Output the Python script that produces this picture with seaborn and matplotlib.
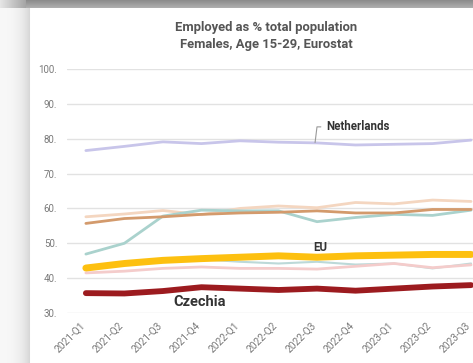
import numpy as np
import pandas as pd
import matplotlib
matplotlib.use("Agg")
import matplotlib.pyplot as plt
import matplotlib.transforms as mtransforms
import seaborn as sns

quarters = ["2021-Q1", "2021-Q2", "2021-Q3", "2021-Q4", "2022-Q1", "2022-Q2",
            "2022-Q3", "2022-Q4", "2023-Q1", "2023-Q2", "2023-Q3"]

netherlands = [76.6, 77.8, 79.1, 78.6, 79.4, 79.0, 78.8, 78.2, 78.4, 78.6, 79.6]
peach_series = [57.6, 58.4, 59.4, 58.2, 60.0, 60.7, 60.2, 61.7, 61.3, 62.4, 62.0]
tan_series = [55.7, 57.1, 57.6, 58.3, 58.7, 58.9, 59.3, 58.7, 58.7, 59.7, 59.7]
teal_series = [46.9, 50.0, 57.8, 59.5, 59.3, 59.3, 56.2, 57.4, 58.3, 58.0, 59.5]
eu = [42.9, 44.2, 45.1, 45.6, 46.0, 46.4, 46.0, 46.4, 46.6, 46.8, 46.8]
teal2_series = [43.3, 44.0, 44.8, 45.4, 44.7, 44.2, 44.7, 43.9, 44.2, 42.8, 44.2]
pink_series = [41.5, 42.0, 42.8, 43.2, 42.8, 42.8, 42.6, 43.4, 44.2, 43.0, 43.8]
czechia = [35.7, 35.6, 36.3, 37.4, 37.0, 36.6, 37.0, 36.4, 37.0, 37.6, 38.0]

y_ticks = [30, 40, 50, 60, 70, 80, 90, 100]
y_tick_labels = ["30.", "40.", "50.", "60.", "70.", "80.", "90.", "100."]

title_text = "Employed as % total population\nFemales, Age 15-29, Eurostat"

sns.set_theme(style="white")
plt.rcParams["font.family"] = ["Roboto", "DejaVu Sans"]

W, H = 473, 363
fig = plt.figure(figsize=(W / 100, H / 100), dpi=100)

# background (screenshot frame)
bg_ax = fig.add_axes([0, 0, 1, 1], zorder=-10)
bg = np.ones((H, W, 3))
left_w, top_h = 30, 8
for x in range(left_w):
    t = x / left_w
    v = 0.97 - 0.14 * t ** 3
    bg[:, x, :] = v
for y in range(top_h):
    t = y / top_h
    bg[y, left_w - 4:, :] = 0.55 + 0.15 * t
for x in range(left_w - 4):
    t = x / left_w
    bg[:top_h, x, :] = np.minimum(bg[:top_h, x, :], 0.9 - 0.3 * t)
bg_ax.imshow(bg, aspect="auto", extent=[0, W, H, 0])
bg_ax.axis("off")

ax_left = 67 / W
ax_bottom = (H - 313) / H
ax_top = (H - 69) / H
ax = fig.add_axes([ax_left, ax_bottom, 1 - ax_left, ax_top - ax_bottom])
ax.set_facecolor("white")

x_idx = np.arange(len(quarters))
series = [
    ("Netherlands", netherlands, "#c8c5ea", 2.0, 3),
    ("Peach", peach_series, "#f4d6c0", 2.0, 2),
    ("Tan", tan_series, "#d39a6c", 2.0, 3),
    ("Teal", teal_series, "#aad2cd", 2.0, 2),
    ("Teal2", teal2_series, "#bcd9d8", 1.5, 2),
    ("Pink", pink_series, "#f4cccb", 2.0, 2),
    ("EU", eu, "#fdc010", 5.0, 4),
    ("Czechia", czechia, "#9c1b1f", 4.2, 5),
]
for name, vals, color, lw, z in series:
    df = pd.DataFrame({"x": x_idx, "y": vals})
    sns.lineplot(data=df, x="x", y="y", ax=ax, color=color, linewidth=lw,
                 zorder=z, solid_capstyle="round", legend=False)

ax.set_xlim(-0.49, 10.05)
ax.set_ylim(30, 100)
ax.tick_params(axis="both", length=0, pad=7)
ax.tick_params(axis="x", pad=5)
ax.set_yticks(y_ticks)
ax.set_yticklabels(y_tick_labels, fontsize=7, color="#7a7a7a")
ax.set_xticks(x_idx)
ax.set_xticklabels(quarters, rotation=45, ha="right", rotation_mode="anchor",
                   fontsize=7.3, color="#7a7a7a")
shift = mtransforms.ScaledTranslation(-6 / 100, 0, fig.dpi_scale_trans)
for tick in ax.xaxis.get_major_ticks():
    tick.label1.set_transform(tick.label1.get_transform() + shift)
ax.grid(axis="y", color="#e2e2e2", linewidth=1.0)
ax.set_axisbelow(True)
for s in ax.spines.values():
    s.set_visible(False)
ax.set_xlabel("")
ax.set_ylabel("")

# labels
ax.plot([6.1, 6.0, 5.95], [83.4, 83.4, 78.9], color="#999999", linewidth=0.8, zorder=6)
ax.text(6.25, 83.4, "Netherlands", fontsize=8.3, fontweight="bold", color="#333333",
        ha="left", va="center", zorder=7)
ax.text(6.08, 48.7, "EU", fontsize=8.3, fontweight="bold", color="#333333",
        ha="center", va="center", zorder=7)
ax.text(2.96, 33.2, "Czechia", fontsize=10.5, fontweight="bold", color="#333333",
        ha="center", va="center", zorder=7)

fig.text(266 / W, 1 - 36 / H, title_text, ha="center", va="center",
         fontsize=9.4, fontweight="semibold", color="#555555", linespacing=1.4)

fig.savefig("out.png", dpi=100)
